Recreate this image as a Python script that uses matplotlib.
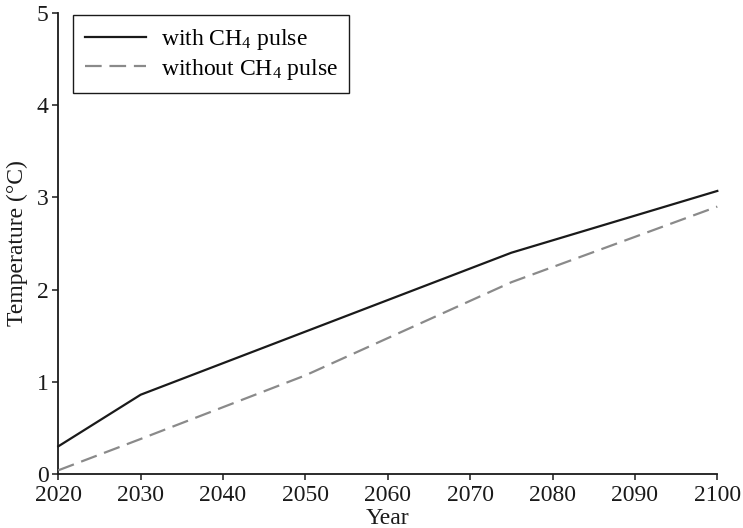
import matplotlib
matplotlib.use("Agg")
import matplotlib.pyplot as plt

plt.rcParams["font.family"] = ["Liberation Serif", "DejaVu Serif"]
plt.rcParams["mathtext.fontset"] = "custom"
plt.rcParams["mathtext.rm"] = "Liberation Serif"
plt.rcParams["mathtext.it"] = "Liberation Serif:italic"

# Temperature projections (°C)
years_with = [2020, 2030, 2075, 2100]
temp_with = [0.30, 0.86, 2.40, 3.07]

years_without = [2020, 2030, 2050, 2075, 2100]
temp_without = [0.04, 0.38, 1.07, 2.08, 2.90]

x_ticks = [2020, 2030, 2040, 2050, 2060, 2070, 2080, 2090, 2100]
y_ticks = [0, 1, 2, 3, 4, 5]

FS = 17
INK = "#1a1a1a"

fig = plt.figure(figsize=(7.43, 5.28), dpi=100)
ax = fig.add_axes([58.3 / 743, 1 - 474 / 528, 659 / 743, 461 / 528])

ax.plot(years_with, temp_with, color=INK, lw=1.6,
        label=r"with CH$_4$ pulse", clip_on=False, zorder=3)
ax.plot(years_without, temp_without, color="#8a8a8a", lw=1.6,
        dashes=(7.5, 3.5), label=r"without CH$_4$ pulse", clip_on=False, zorder=3)

ax.set_xlim(2020, 2100)
ax.set_ylim(0, 5)
ax.set_xticks(x_ticks)
ax.set_yticks(y_ticks)

for side in ("top", "right"):
    ax.spines[side].set_visible(False)
for side in ("left", "bottom"):
    ax.spines[side].set_linewidth(1.3)
    ax.spines[side].set_color(INK)

ax.tick_params(axis="both", direction="out", length=4.5, width=1.1,
               color=INK, labelsize=FS, labelcolor=INK)
ax.tick_params(axis="x", pad=3.5)
ax.tick_params(axis="y", pad=2.5)

ax.set_xlabel("Year", fontsize=FS, color=INK, labelpad=1)
ax.set_ylabel("Temperature (°C)", fontsize=FS, color=INK, labelpad=6)

leg = ax.legend(loc="upper left", bbox_to_anchor=(15 / 659, 1 - 2 / 461),
                borderaxespad=0, fontsize=FS, handlelength=2.6,
                handletextpad=0.6, borderpad=0.5, labelspacing=0.2,
                frameon=True, fancybox=False, framealpha=1)
leg.get_frame().set_edgecolor(INK)
leg.get_frame().set_linewidth(1.0)

fig.savefig("out.png", dpi=100)
